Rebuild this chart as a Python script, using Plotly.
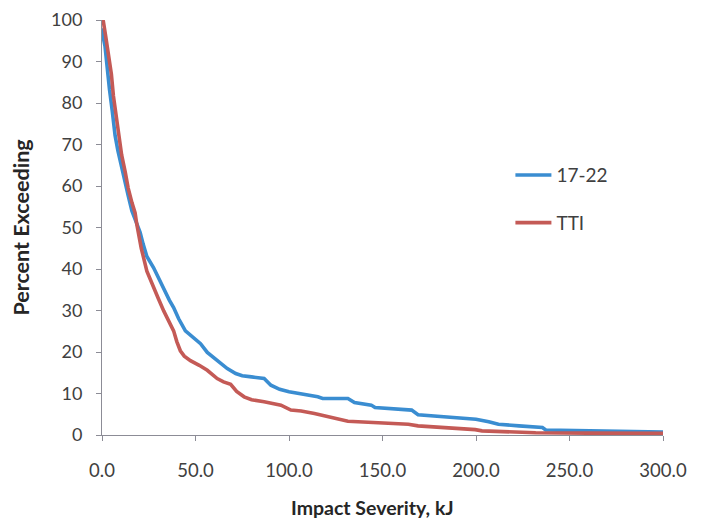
import plotly.graph_objects as go

# Series "17-22" (blue)
x_1722 = [0, 0.2, 1.6, 2.5, 4.0, 5.5, 7.0, 8.5, 10.0, 12.0, 14.1, 16.0, 18.6, 20.4, 22.0, 24.0,
          27.6, 30.0, 33.0, 36.0, 38.3, 41.0, 44.6, 48.0, 50.0, 52.7, 56.3, 60.0, 63.4, 67.0,
          71.5, 75.0, 80.0, 86.7, 90.3, 95.0, 100.0, 104.7, 110.0, 115.4, 118.0, 125.0, 131.5,
          135.0, 140.0, 144.0, 146.0, 155.0, 165.6, 169.0, 180.0, 194.0, 200.0, 206.8, 212.0,
          223.0, 235.5, 237.3, 250.0, 258.8, 280.0, 300.0]
y_1722 = [98.0, 96.9, 93.7, 89.5, 83.3, 78.0, 72.2, 68.5, 65.5, 61.0, 57.5, 54.0, 51.0, 48.8,
          46.0, 43.0, 40.3, 38.0, 35.5, 32.5, 30.7, 28.0, 25.1, 23.8, 23.0, 22.0, 19.9, 18.5,
          17.2, 16.0, 14.8, 14.3, 14.0, 13.6, 12.0, 11.0, 10.4, 10.1, 9.7, 9.2, 8.8, 8.8, 8.8,
          7.8, 7.4, 7.2, 6.6, 6.3, 6.0, 4.9, 4.5, 4.1, 3.8, 3.2, 2.6, 2.2, 1.8, 1.2, 1.1, 1.0,
          0.8, 0.7]

# Series "TTI" (red)
x_tti = [0, 0.7, 2.0, 3.4, 5.0, 6.1, 8.8, 10.5, 12.4, 14.0, 16.0, 17.7, 18.6, 19.5, 21.0, 24.0,
         27.0, 30.0, 33.0, 36.0, 38.3, 40.0, 41.9, 44.0, 47.3, 52.0, 56.3, 61.6, 65.0, 68.8,
         72.0, 76.0, 80.0, 86.7, 95.7, 101.0, 106.5, 113.6, 117.0, 122.6, 131.5, 145.0, 163.8,
         169.0, 185.0, 199.6, 203.2, 215.0, 231.9, 260.0, 300.0]
y_tti = [100.0, 99.7, 96.0, 92.1, 87.0, 81.7, 72.2, 67.5, 63.4, 59.5, 56.0, 53.5, 50.8, 48.5,
         45.0, 39.5, 36.5, 33.0, 29.9, 27.0, 25.1, 22.5, 20.3, 19.0, 17.9, 16.8, 15.6, 13.6,
         12.8, 12.2, 10.5, 9.2, 8.5, 8.0, 7.2, 6.0, 5.8, 5.2, 4.8, 4.3, 3.3, 3.0, 2.6, 2.2,
         1.8, 1.3, 1.0, 0.8, 0.55, 0.45, 0.4]

x_ticks = [0, 50, 100, 150, 200, 250, 300]
y_ticks = [0, 10, 20, 30, 40, 50, 60, 70, 80, 90, 100]

x_title = "Impact Severity, kJ"
y_title = "Percent Exceeding"

FONT = "Lato"
AXIS_COLOR = "#8c8c96"

fig = go.Figure()
fig.add_trace(go.Scatter(x=x_1722, y=y_1722, mode="lines", name="17-22",
                         line=dict(color="#3a8dd1", width=3.6), legendgroup="a"))
fig.add_trace(go.Scatter(x=x_tti, y=y_tti, mode="lines", name="TTI",
                         line=dict(color="#c45a56", width=3.6), legendgroup="b"))

fig.add_annotation(text="<b>" + x_title + "</b>", xref="paper", yref="paper",
                   x=0.483, y=0, xanchor="center", yanchor="middle", yshift=-72,
                   showarrow=False, font=dict(family=FONT, size=19.5, color="#262626"))

fig.update_layout(
    width=705, height=520,
    margin=dict(l=94, r=50, t=12, b=93, autoexpand=False),
    paper_bgcolor="white", plot_bgcolor="white",
    font=dict(family=FONT, size=18, color="#404040"),
    legend=dict(x=0.728, y=0.672, xanchor="left", yanchor="top",
                font=dict(family=FONT, size=19, color="#404040"),
                tracegroupgap=20, traceorder="grouped", itemwidth=36,
                bgcolor="rgba(0,0,0,0)"),
    xaxis=dict(range=[0, 300], tickvals=x_ticks, tickformat=".1f", automargin=False,
               showgrid=False, zeroline=False, showline=True, linecolor=AXIS_COLOR,
               linewidth=1, ticks="outside", ticklen=5, tickcolor=AXIS_COLOR,
               ticklabelstandoff=14, ticklabeloverflow="allow",
               tickfont=dict(size=18.5)),
    yaxis=dict(range=[0, 100], tickvals=y_ticks, automargin=False,
               showgrid=False, zeroline=False, showline=True, linecolor=AXIS_COLOR,
               linewidth=1, ticks="outside", ticklen=5, tickcolor=AXIS_COLOR,
               ticklabelstandoff=10, ticklabeloverflow="allow",
               title=dict(text="<b>" + y_title + "</b>", standoff=21,
                          font=dict(family=FONT, size=21.5, color="#262626"))),
)

fig.write_html("out.html")
